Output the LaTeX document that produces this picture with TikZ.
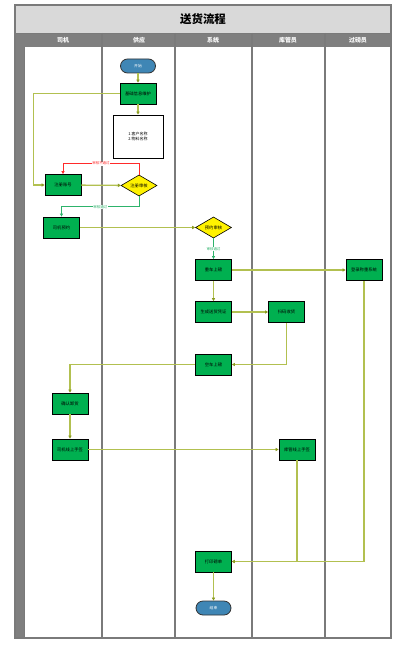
\documentclass[tikz,border=0pt]{standalone}
\usepackage{fontspec}
\setmainfont{Noto Sans CJK SC}
\usetikzlibrary{shapes.geometric,arrows.meta}
\definecolor{titlegray}{HTML}{D9D9D9}
\definecolor{headgray}{HTML}{7F7F7F}
\definecolor{lanegray}{HTML}{7A7A7A}
\definecolor{procgreen}{HTML}{00B050}
\definecolor{termblue}{HTML}{3F86B5}
\definecolor{olive}{HTML}{B2C050}
\definecolor{olivetip}{HTML}{8C9C22}
\definecolor{redline}{HTML}{FF2A2A}
\definecolor{greenline}{HTML}{2DB36B}
\tikzset{
  proc/.style={rectangle, draw=black, fill=procgreen, line width=0.8bp, minimum width=36bp, minimum height=21bp, inner sep=0pt, font=\fontsize{4.3}{5}\selectfont},
  decide/.style={diamond, draw=black, fill=yellow, line width=0.6bp, minimum width=36bp, minimum height=21bp, inner sep=0pt, font=\fontsize{4.3}{5}\selectfont},
  term/.style={rectangle, rounded corners=7bp, draw=black!80, fill=termblue, line width=0.8bp, minimum width=35bp, minimum height=14bp, inner sep=0pt, text=white, font=\fontsize{3.8}{4}\selectfont},
  docbox/.style={rectangle, draw=black, fill=white, line width=0.9bp, minimum width=50bp, minimum height=43bp, inner sep=0pt, align=left, font=\fontsize{4}{5}\selectfont},
  conn/.style={draw=olive, line width=1.3bp, -{Triangle[length=3bp,width=3.2bp,color=olivetip]}},
  nogo/.style={draw=redline, line width=0.9bp, -{Triangle[length=3bp,width=3bp]}},
  go/.style={draw=greenline, line width=0.9bp, -{Triangle[length=3bp,width=3bp]}},
  lbl/.style={fill=white, inner sep=0.5pt, font=\fontsize{3.5}{4}\selectfont},
  lane/.style={draw=lanegray, line width=1.6bp},
  headtxt/.style={text=white, font=\fontsize{6}{6}\selectfont\bfseries}
}
\begin{document}
\begin{tikzpicture}[x=1bp,y=-1bp]
\useasboundingbox (0,0) rectangle (408,652);
\fill[white] (0,0) rectangle (408,652);
% frame
\fill[titlegray] (15,5) rectangle (391,33);
\fill[headgray] (15,33) rectangle (391,47);
\fill[headgray] (15,33) rectangle (24,638);
\draw[lane] (102,33) -- (102,638);
\draw[lane] (175,33) -- (175,638);
\draw[lane] (252,33) -- (252,638);
\draw[lane] (325,33) -- (325,638);
\draw[lanegray, line width=0.8bp] (24,47) -- (24,638);
\draw[lanegray, line width=1.4bp] (15,5) rectangle (391,638);
\draw[lanegray, line width=0.8bp] (15,33) -- (391,33);
\node (title) at (203,19) {\fontsize{11.5}{12}\selectfont\bfseries 送货流程};
\node[headtxt] (h1) at (63,40) {司机};
\node[headtxt] (h2) at (139,40) {供应};
\node[headtxt] (h3) at (213,40) {系统};
\node[headtxt] (h4) at (288,40) {库管员};
\node[headtxt] (h5) at (358,40) {过磅员};
% nodes
\node[term] (start) at (138,66) {开始};
\node[proc] (base) at (138,93.5) {基础信息维护};
\node[docbox] (doc) at (138,136.5) {1.客户名称\\2.物料名称};
\node[proc] (reg) at (63,185) {注册账号};
\node[decide] (regchk) at (139,185.5) {注册审核};
\node[proc] (book) at (61.5,227.5) {司机预约};
\node[decide] (bookchk) at (213.5,227.5) {预约审核};
\node[proc] (heavy) at (213.5,270) {重车上磅};
\node[proc] (weigh) at (364,270) {登录称重系统};
\node[proc] (gen) at (213.5,312) {生成送货凭证};
\node[proc] (scan) at (286.5,312) {扫码收货};
\node[proc] (empty) at (213.5,364.5) {空车上磅};
\node[proc] (confirm) at (70,403.5) {确认卸货};
\node[proc] (sign1) at (70,449.5) {司机线上手签};
\node[proc] (sign2) at (297,449.5) {库管线上手签};
\node[proc] (print) at (213.5,561.5) {打印磅单};
\node[term] (end) at (213.5,608) {结束};
% connectors
\draw[conn] (start) -- (base);
\draw[conn] (base) -- (doc);
\draw[conn] (base.west) -- ++(-86,0) |- (reg.west);
\draw[conn] (reg) -- (regchk);
\draw[nogo] (regchk.north) -- ++(0,-11) -| (reg.north) node[lbl, text=redline, pos=0.25] {审核不通过};
\draw[go] (regchk.south) -- ++(0,10.5) -| (book.north) node[lbl, text=greenline, pos=0.25] {审核通过};
\draw[conn] (book) -- (bookchk);
\draw[go] (bookchk.south) -- (heavy.north) node[lbl, text=greenline, midway] {审核通过};
\draw[conn] (heavy) -- (weigh);
\draw[conn] (heavy) -- (gen);
\draw[conn] (gen) -- (scan);
\draw[conn] (scan.south) |- (empty.east);
\draw[conn] (empty.west) -| (confirm.north);
\draw[conn] (confirm) -- (sign1);
\draw[conn] (sign1) -- (sign2);
\draw[conn] (sign2.south) |- (print.east);
\draw[conn] (weigh.south) |- (print.east);
\draw[conn] (print) -- (end);
\end{tikzpicture}
\end{document}
